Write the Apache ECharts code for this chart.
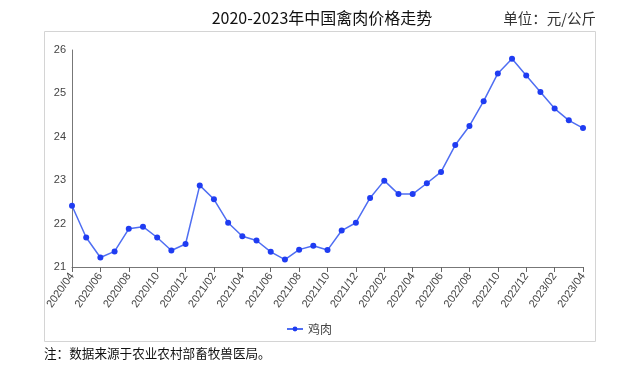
<!DOCTYPE html>
<html><head><meta charset="utf-8">
<script src="https://cdn.jsdelivr.net/npm/echarts@6/dist/echarts.min.js"></script>
<style>html,body{margin:0;padding:0;background:#fff}#c{width:638px;height:370px}</style>
</head><body><div id="c"></div>
<script>
const titleText = '2020-2023年中国禽肉价格走势';
const unitText = '单位：元/公斤';
const noteText = '注：数据来源于农业农村部畜牧兽医局。';
const seriesName = '鸡肉';
const months = [
 '2020/04','2020/05','2020/06','2020/07','2020/08','2020/09','2020/10','2020/11','2020/12',
 '2021/01','2021/02','2021/03','2021/04','2021/05','2021/06','2021/07','2021/08','2021/09','2021/10','2021/11','2021/12',
 '2022/01','2022/02','2022/03','2022/04','2022/05','2022/06','2022/07','2022/08','2022/09','2022/10','2022/11','2022/12',
 '2023/01','2023/02','2023/03','2023/04'];
const chickenPrice = [
 22.41,21.68,21.22,21.36,21.88,21.93,21.68,21.38,21.53,
 22.88,22.56,22.02,21.71,21.61,21.35,21.17,21.40,21.49,21.39,21.84,22.02,
 22.59,22.99,22.68,22.68,22.93,23.19,23.81,24.25,24.82,25.46,25.80,25.41,
 25.03,24.65,24.38,24.20];
const yTicks = [21,22,23,24,25,26];
const everyOther = function (i) { return i % 2 === 0; };

const chart = echarts.init(document.getElementById('c'), null, {renderer:'canvas'});
chart.setOption({
  animation:false,
  backgroundColor:'#fff',
  title:{text:titleText,left:317,top:5,textAlign:'center',
    textStyle:{fontSize:16,fontWeight:'normal',color:'#111',fontFamily:'Noto Sans CJK SC'}},
  graphic:[
    {type:'rect',shape:{x:44.5,y:31.5,width:551,height:310},
     style:{fill:'none',stroke:'#d4d4d4',lineWidth:1},silent:true},
    {type:'text',right:42,top:11,style:{text:unitText,fontSize:14.5,fill:'#333',fontFamily:'Noto Sans CJK SC'}},
    {type:'text',left:44,top:347,style:{text:noteText,fontSize:12.6,fill:'#111',fontFamily:'Noto Sans CJK SC'}}
  ],
  legend:{data:[seriesName],left:281,top:318,itemWidth:16,itemHeight:6,itemGap:6,
    textStyle:{fontSize:12,color:'#444',fontFamily:'Noto Sans CJK SC'}},
  grid:{left:72,right:55,top:50,bottom:103,containLabel:false},
  xAxis:{type:'category',data:months,boundaryGap:false,
    axisLine:{show:true,lineStyle:{color:'#777',width:1}},
    axisTick:{show:true,inside:false,interval:everyOther,length:5,lineStyle:{color:'#666',width:1}},
    axisLabel:{interval:everyOther,rotate:55,fontSize:11,color:'#444',margin:7,fontFamily:'Liberation Sans'},
    splitLine:{show:false}},
  yAxis:{type:'value',min:yTicks[0],max:yTicks[yTicks.length-1],interval:1,
    axisLine:{show:true,lineStyle:{color:'#777',width:1}},
    axisTick:{show:false},
    axisLabel:{fontSize:11,color:'#444',margin:6,fontFamily:'Liberation Sans'},
    splitLine:{show:false}},
  series:[{name:seriesName,type:'line',data:chickenPrice,
    symbol:'circle',symbolSize:6,
    lineStyle:{color:'#4f6ef2',width:1.5},
    itemStyle:{color:'#1f3cf2',borderWidth:0}}]
});
</script></body></html>
